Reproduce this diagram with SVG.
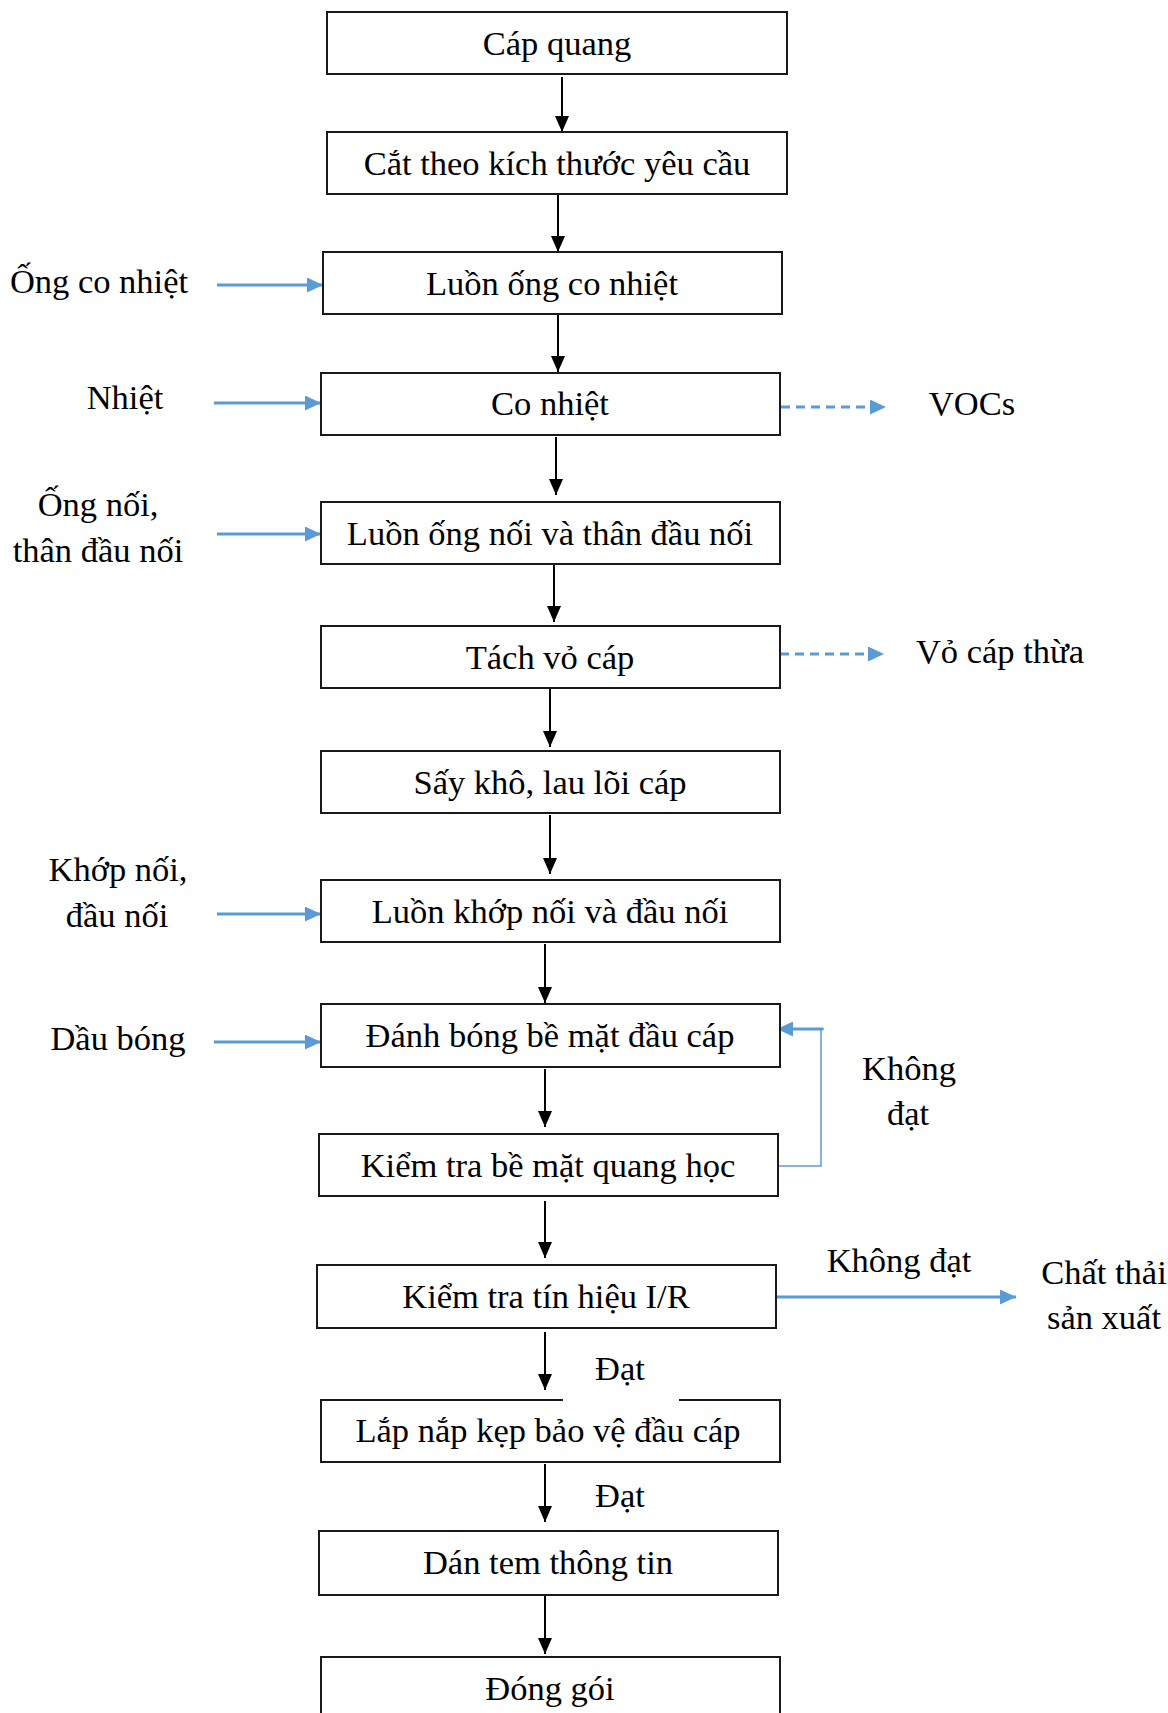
<svg xmlns="http://www.w3.org/2000/svg" width="1168" height="1713" viewBox="0 0 1168 1713">
<style>
.box{fill:#fff;stroke:#1a1a1a;stroke-width:2}
.t{font-family:"Liberation Serif","Times New Roman",serif;font-size:34.5px;fill:#000;text-anchor:middle}
.k{stroke:#000;stroke-width:2;fill:none}
.b{stroke:#5B9BD5;stroke-width:3;fill:none}
.bd{stroke:#5B9BD5;stroke-width:3;fill:none;stroke-dasharray:9,6}
.bt{stroke:#5B9BD5;stroke-width:1.5;fill:none}
</style>
<defs>
<marker id="ah" markerUnits="userSpaceOnUse" markerWidth="16" markerHeight="14" refX="16" refY="7" orient="auto"><path d="M0,0 L16,7 L0,14 z" fill="#000"/></marker>
<marker id="bh" markerUnits="userSpaceOnUse" markerWidth="16" markerHeight="15" refX="16" refY="7.5" orient="auto"><path d="M0,0 L16,7.5 L0,15 z" fill="#5B9BD5"/></marker>
</defs>
<rect width="1168" height="1713" fill="#fff"/>
<g id="connectors">
<line class="k" x1="562" y1="77" x2="562" y2="132" marker-end="url(#ah)"/>
<line class="k" x1="558" y1="194" x2="558" y2="252" marker-end="url(#ah)"/>
<line class="k" x1="558" y1="314" x2="558" y2="372" marker-end="url(#ah)"/>
<line class="k" x1="556" y1="437" x2="556" y2="495" marker-end="url(#ah)"/>
<line class="k" x1="554" y1="564" x2="554" y2="622" marker-end="url(#ah)"/>
<line class="k" x1="550" y1="688" x2="550" y2="747" marker-end="url(#ah)"/>
<line class="k" x1="550" y1="815" x2="550" y2="874" marker-end="url(#ah)"/>
<line class="k" x1="545" y1="944" x2="545" y2="1003" marker-end="url(#ah)"/>
<line class="k" x1="545" y1="1069" x2="545" y2="1127" marker-end="url(#ah)"/>
<line class="k" x1="545" y1="1201" x2="545" y2="1258" marker-end="url(#ah)"/>
<line class="k" x1="545" y1="1332" x2="545" y2="1390" marker-end="url(#ah)"/>
<line class="k" x1="545" y1="1464" x2="545" y2="1522" marker-end="url(#ah)"/>
<line class="k" x1="545" y1="1596" x2="545" y2="1654" marker-end="url(#ah)"/>
<line class="b" x1="217" y1="285" x2="323" y2="285" marker-end="url(#bh)"/>
<line class="b" x1="214" y1="403" x2="321" y2="403" marker-end="url(#bh)"/>
<line class="bd" x1="781" y1="407" x2="886" y2="407" marker-end="url(#bh)"/>
<line class="b" x1="217" y1="534" x2="321" y2="534" marker-end="url(#bh)"/>
<line class="bd" x1="780" y1="654" x2="884" y2="654" marker-end="url(#bh)"/>
<line class="b" x1="217" y1="914" x2="321" y2="914" marker-end="url(#bh)"/>
<line class="b" x1="214" y1="1042" x2="321" y2="1042" marker-end="url(#bh)"/>
<polyline class="bt" points="777,1166 821,1166 821,1029 824,1029"/>
<line class="b" x1="823" y1="1029" x2="777" y2="1029" stroke-width="2.5" marker-end="url(#bh)"/>
<line class="b" x1="776" y1="1297" x2="1016" y2="1297" marker-end="url(#bh)"/>
</g>
<g id="n1"><rect class="box" x="327" y="12" width="460" height="62"/><text class="t" x="557" y="55">Cáp quang</text></g>
<g id="n2"><rect class="box" x="327" y="132" width="460" height="62"/><text class="t" x="557" y="175">Cắt theo kích thước yêu cầu</text></g>
<g id="n3"><rect class="box" x="323" y="252" width="459" height="62"/><text class="t" x="552" y="295">Luồn ống co nhiệt</text></g>
<g id="n4"><rect class="box" x="321" y="373" width="459" height="62"/><text class="t" x="550" y="415">Co nhiệt</text></g>
<g id="n5"><rect class="box" x="321" y="502" width="459" height="62"/><text class="t" x="550" y="545">Luồn ống nối và thân đầu nối</text></g>
<g id="n6"><rect class="box" x="321" y="626" width="459" height="62"/><text class="t" x="550" y="669">Tách vỏ cáp</text></g>
<g id="n7"><rect class="box" x="321" y="751" width="459" height="62"/><text class="t" x="550" y="794">Sấy khô, lau lõi cáp</text></g>
<g id="n8"><rect class="box" x="321" y="880" width="459" height="62"/><text class="t" x="550" y="923">Luồn khớp nối và đầu nối</text></g>
<g id="n9"><rect class="box" x="321" y="1004" width="459" height="63"/><text class="t" x="550" y="1047">Đánh bóng bề mặt đầu cáp</text></g>
<g id="n10"><rect class="box" x="319" y="1134" width="459" height="62"/><text class="t" x="548" y="1177">Kiểm tra bề mặt quang học</text></g>
<g id="n11"><rect class="box" x="317" y="1265" width="459" height="63"/><text class="t" x="546" y="1308">Kiểm tra tín hiệu I/R</text></g>
<g id="n12"><rect class="box" x="321" y="1400" width="459" height="62"/><rect x="563" y="1396" width="116" height="6" fill="#fff"/><text class="t" x="548" y="1442">Lắp nắp kẹp bảo vệ đầu cáp</text></g>
<g id="n13"><rect class="box" x="319" y="1531" width="459" height="64"/><text class="t" x="548" y="1574">Dán tem thông tin</text></g>
<g id="n14"><rect class="box" x="321" y="1657" width="459" height="70"/><text class="t" x="550" y="1700">Đóng gói</text></g>
<g id="labels">
<text class="t" x="99" y="293">Ống co nhiệt</text>
<text class="t" x="125" y="409">Nhiệt</text>
<text class="t" x="972" y="415">VOCs</text>
<text class="t" x="98" y="516">Ống nối,</text>
<text class="t" x="98" y="562">thân đầu nối</text>
<text class="t" x="1000" y="663">Vỏ cáp thừa</text>
<text class="t" x="118" y="881">Khớp nối,</text>
<text class="t" x="117" y="927">đầu nối</text>
<text class="t" x="118" y="1050">Dầu bóng</text>
<text class="t" x="909" y="1080">Không</text>
<text class="t" x="908" y="1125">đạt</text>
<text class="t" x="899" y="1272">Không đạt</text>
<text class="t" x="1104" y="1284">Chất thải</text>
<text class="t" x="1104" y="1329">sản xuất</text>
<text class="t" x="620" y="1380">Đạt</text>
<text class="t" x="620" y="1507">Đạt</text>
</g>
</svg>
